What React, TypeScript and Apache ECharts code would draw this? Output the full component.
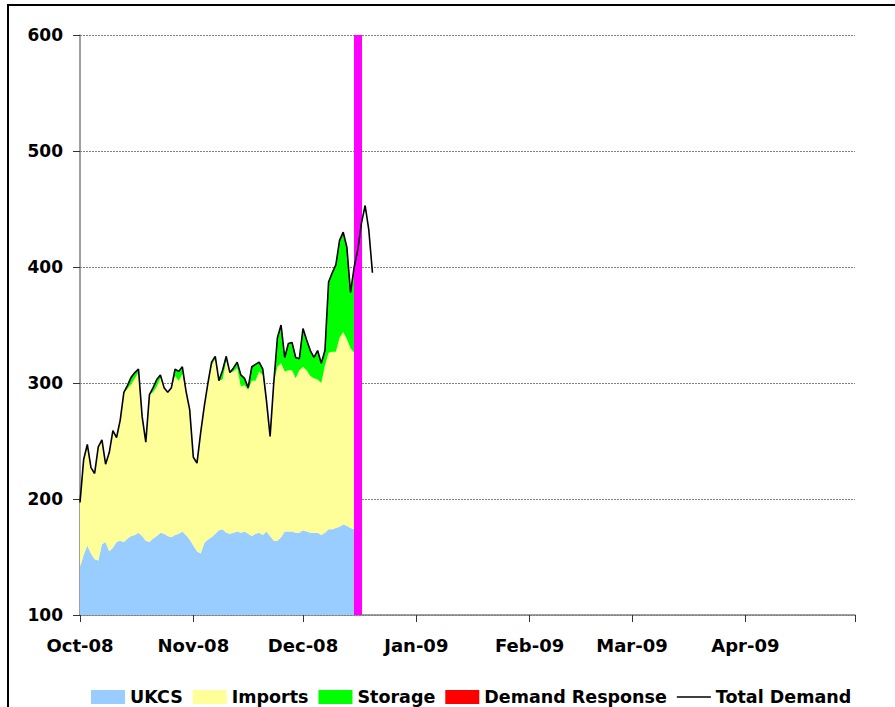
import React, { useEffect, useRef } from "react";
import * as echarts from "echarts";

// Daily series starting 1 Oct 2008
const ukcs = [
  141, 152, 160, 153, 148, 147, 161, 163, 155, 158,
  163, 164, 163, 166, 168, 169, 171, 168, 164, 163,
  166, 168, 171, 170, 168, 167, 169, 170, 172, 169,
  165, 160, 155, 153, 162, 165, 167, 170, 173, 174,
  171, 170, 171, 172, 171, 172, 170, 168, 170, 171,
  169, 172, 168, 164, 164, 167, 172, 172, 172, 171,
  171, 173, 172, 171, 171, 171, 169, 171, 174, 174,
  175, 176, 178, 177, 175, 174,
];
const imports = [
  56, 82, 87, 74, 74, 98, 90, 67, 85, 101,
  90, 104, 129, 129, 131, 135, 138, 103, 85, 127,
  126, 129, 133, 126, 124, 129, 137, 132, 136, 124,
  112, 76, 76, 104, 118, 135, 148, 151, 129, 129,
  148, 139, 139, 141, 126, 126, 124, 134, 132, 139,
  138, 113, 86, 136, 150, 150, 138, 139, 139, 133,
  140, 141, 139, 135, 133, 132, 131, 144, 152, 153,
  152, 163, 166, 161, 155, 152,
];
const storage = [
  0, 0, 0, 0, 0, 0, 0, 0, 0, 0,
  0, 0, 0, 3, 6, 5, 3, 0, 0, 0,
  4, 6, 3, 0, 0, 0, 6, 8, 6, 0,
  0, 0, 0, 0, 0, 0, 3, 2, 0, 8,
  4, 0, 3, 5, 10, 6, 2, 12, 14, 8,
  5, 0, 0, 0, 25, 33, 12, 23, 24, 18,
  10, 33, 26, 22, 18, 25, 17, 13, 61, 68,
  75, 83, 84, 79, 48, 74,
];
const demandResponse = [
  0, 0, 0, 0, 0, 0, 0, 0, 0, 0,
  0, 0, 0, 0, 0, 0, 0, 0, 0, 0,
  0, 0, 0, 0, 0, 0, 0, 0, 0, 0,
  0, 0, 0, 0, 0, 0, 0, 0, 0, 0,
  0, 0, 0, 0, 0, 0, 0, 0, 0, 0,
  0, 0, 0, 0, 0, 0, 0, 0, 0, 0,
  0, 0, 0, 0, 0, 0, 0, 0, 0, 0,
  0, 1, 2, 0, 0, 0,
];
const totalDemand = [
  197, 234, 247, 227, 222, 245, 251, 230, 240, 259,
  253, 268, 292, 298, 305, 309, 312, 271, 249, 290,
  296, 303, 307, 296, 292, 296, 312, 310, 314, 293,
  277, 236, 231, 257, 280, 300, 318, 323, 302, 311,
  323, 309, 313, 318, 307, 304, 296, 314, 316, 318,
  312, 285, 254, 300, 339, 350, 322, 334, 335, 322,
  321, 347, 337, 328, 322, 328, 317, 328, 387, 395,
  402, 423, 430, 417, 378, 400, 415, 438, 453, 432,
  395,
];

const monthStarts = [
  "2008-10-01", "2008-11-01", "2008-12-01", "2009-01-01",
  "2009-02-01", "2009-03-01", "2009-04-01",
];
const monthLabels = ["Oct-08", "Nov-08", "Dec-08", "Jan-09", "Feb-09", "Mar-09", "Apr-09"];
const markerDate = "2008-12-16";
const yTicks = [100, 200, 300, 400, 500, 600];

function buildDays(): string[] {
  const out: string[] = [];
  const start = Date.UTC(2008, 9, 1);
  const end = Date.UTC(2009, 4, 1);
  for (let t = start; t <= end; t += 86400000) {
    out.push(new Date(t).toISOString().slice(0, 10));
  }
  return out;
}

const FONT = "'DejaVu Sans', sans-serif";

export default function App() {
  const ref = useRef<HTMLDivElement>(null);
  useEffect(() => {
    if (!ref.current) return;
    const chart = echarts.init(ref.current, null, { renderer: "svg" });
    const days = buildDays();
    const areaSeries = (name: string, data: number[], color: string) => ({
      name,
      type: "line",
      stack: "supply",
      data,
      symbol: "none",
      showSymbol: false,
      lineStyle: { width: 0, color },
      itemStyle: { color },
      areaStyle: { color, opacity: 1 },
      emphasis: { disabled: true },
    });
    chart.setOption({
      animation: false,
      textStyle: { fontFamily: FONT },
      graphic: [
        {
          type: "rect",
          shape: { x: 8, y: 5, width: 1000, height: 1000 },
          style: { fill: "none", stroke: "#000", lineWidth: 2 },
          silent: true,
        },
      ],
      grid: { left: 80, right: 40, top: 35, bottom: 92, containLabel: false },
      legend: {
        left: 86,
        top: 683,
        itemWidth: 34,
        itemHeight: 14,
        itemGap: 10,
        textStyle: { fontFamily: FONT, fontWeight: "bold", fontSize: 17.5, color: "#000" },
        data: [
          { name: "UKCS", icon: "rect" },
          { name: "Imports", icon: "rect" },
          { name: "Storage", icon: "rect" },
          { name: "Demand Response", icon: "rect" },
          { name: "Total Demand", icon: "path://M0,0 L32,0 L32,1.5 L0,1.5 Z" },
        ],
      },
      xAxis: {
        type: "category",
        data: days,
        boundaryGap: false,
        axisLine: { lineStyle: { color: "#808080", width: 1.5 } },
        axisTick: {
          length: 7,
          lineStyle: { color: "#333" },
          interval: (_i: number, v: string) => v.endsWith("-01"),
        },
        axisLabel: {
          interval: (_i: number, v: string) => monthStarts.indexOf(v) >= 0,
          formatter: (v: string) => {
            const i = monthStarts.indexOf(v);
            return i >= 0 ? monthLabels[i] : "";
          },
          margin: 21,
          fontFamily: FONT,
          fontWeight: "bold",
          fontSize: 18,
          color: "#000",
        },
        splitLine: { show: false },
      },
      yAxis: {
        type: "value",
        min: yTicks[0],
        max: yTicks[yTicks.length - 1],
        interval: 100,
        axisLine: { show: true, lineStyle: { color: "#808080", width: 1.5 } },
        axisTick: { show: true, length: 7, lineStyle: { color: "#333" } },
        axisLabel: {
          margin: 17,
          fontFamily: FONT,
          fontWeight: "bold",
          fontSize: 17,
          color: "#000",
        },
        splitLine: { show: true, lineStyle: { color: "#808080", type: [2, 1], width: 1 } },
      },
      series: [
        areaSeries("UKCS", ukcs, "#99CCFF"),
        areaSeries("Imports", imports, "#FFFF99"),
        areaSeries("Storage", storage, "#00FF00"),
        areaSeries("Demand Response", demandResponse, "#FF0000"),
        {
          name: "Total Demand",
          type: "line",
          data: totalDemand,
          symbol: "none",
          showSymbol: false,
          z: 5,
          lineStyle: { color: "#000", width: 1.6 },
          itemStyle: { color: "#000" },
          emphasis: { disabled: true },
          markLine: {
            silent: true,
            symbol: "none",
            label: { show: false },
            lineStyle: { color: "#FF00FF", width: 8, type: "solid" },
            data: [{ xAxis: markerDate }],
          },
        },
      ],
    });
    return () => chart.dispose();
  }, []);
  return (
    <div
      ref={ref}
      style={{ position: "absolute", left: 0, top: 0, width: 895, height: 707 }}
    />
  );
}
